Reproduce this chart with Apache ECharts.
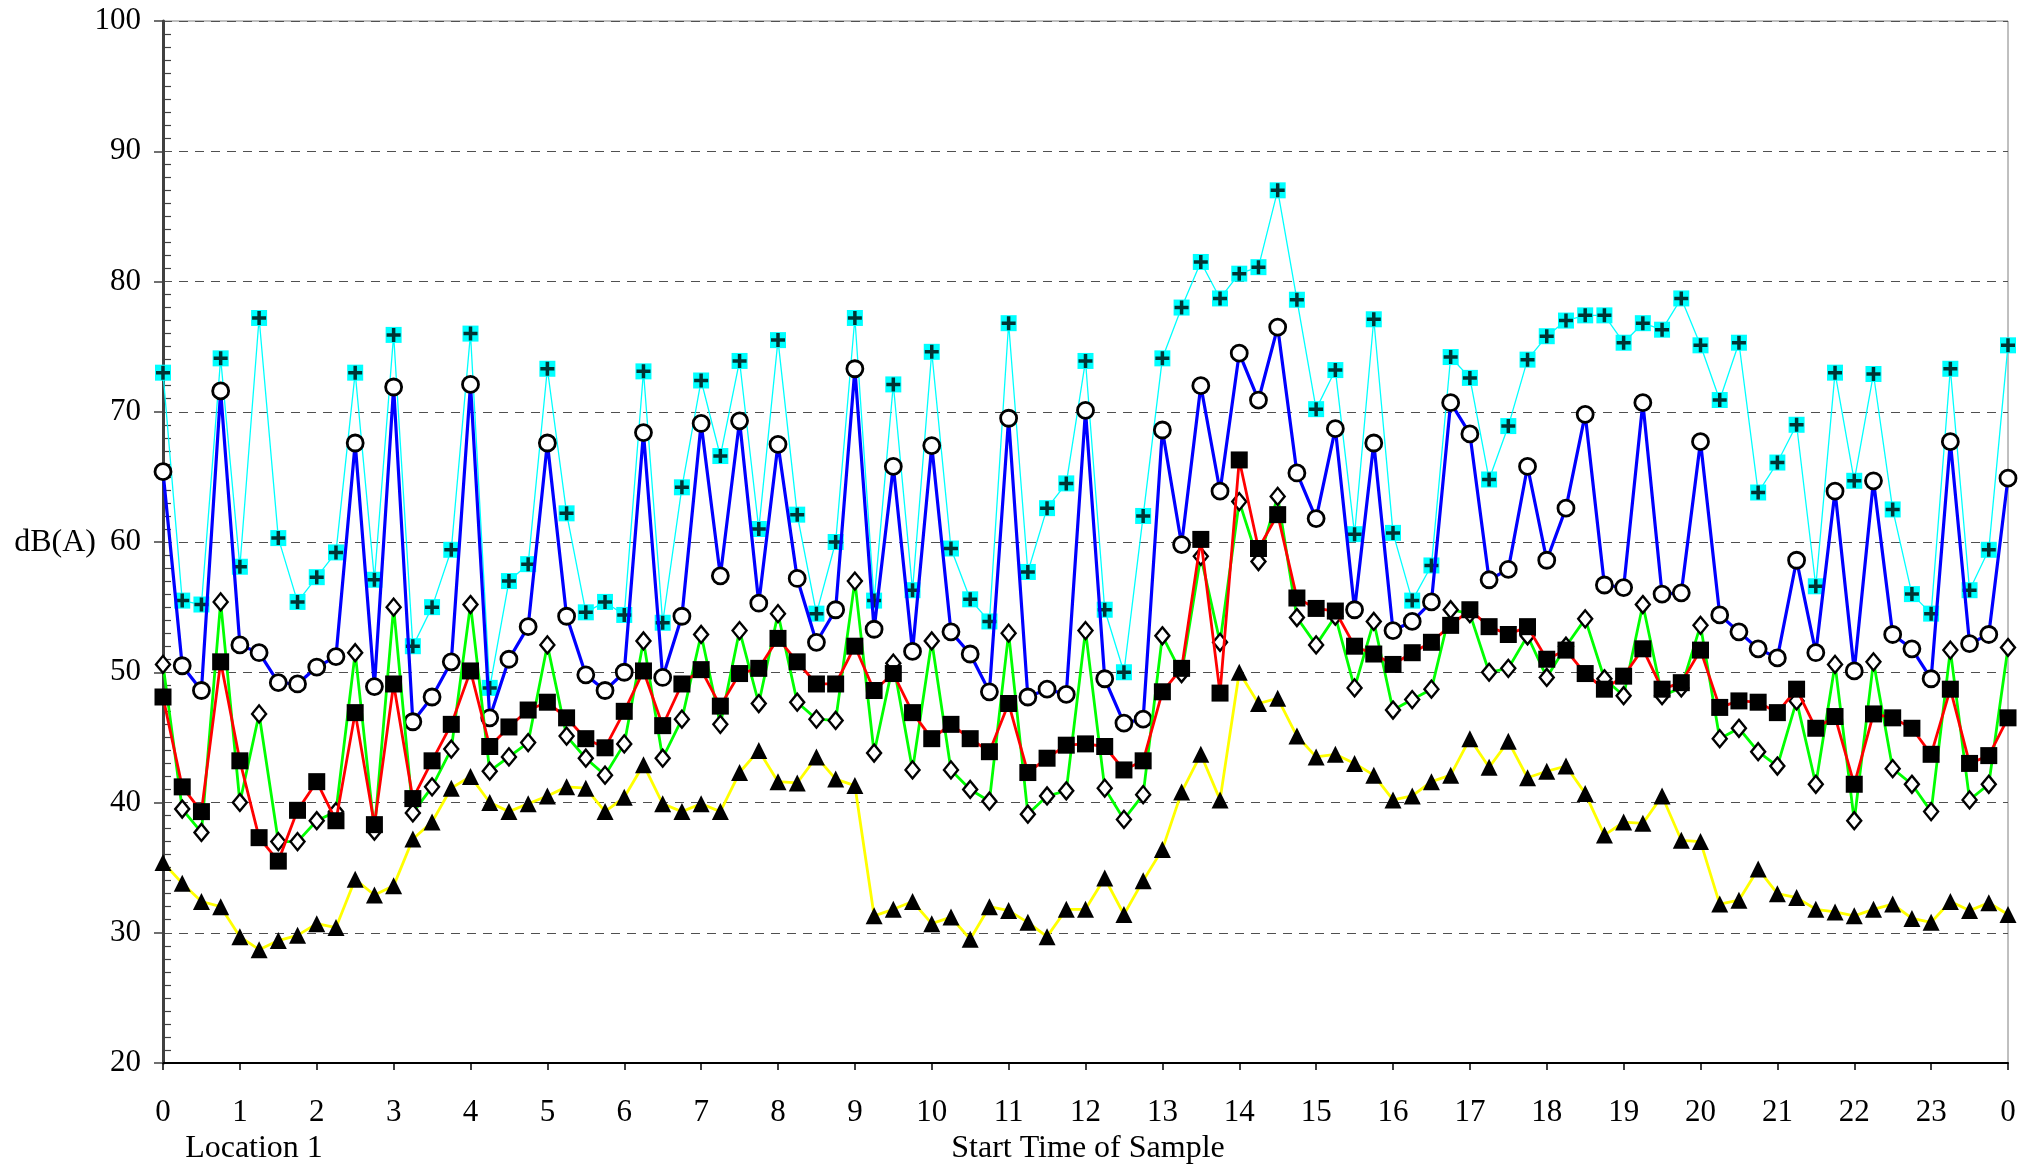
<!DOCTYPE html>
<html><head><meta charset="utf-8">
<script src="https://cdn.jsdelivr.net/npm/echarts@6/dist/echarts.min.js"></script>
<style>html,body{margin:0;padding:0;background:#fff}#c{width:2034px;height:1165px}</style>
</head><body><div id="c"></div>
<script>
const sampleTimes = ['0:00','0:15','0:30','0:45','1:00','1:15','1:30','1:45','2:00','2:15','2:30','2:45','3:00','3:15','3:30','3:45','4:00','4:15','4:30','4:45','5:00','5:15','5:30','5:45','6:00','6:15','6:30','6:45','7:00','7:15','7:30','7:45','8:00','8:15','8:30','8:45','9:00','9:15','9:30','9:45','10:00','10:15','10:30','10:45','11:00','11:15','11:30','11:45','12:00','12:15','12:30','12:45','13:00','13:15','13:30','13:45','14:00','14:15','14:30','14:45','15:00','15:15','15:30','15:45','16:00','16:15','16:30','16:45','17:00','17:15','17:30','17:45','18:00','18:15','18:30','18:45','19:00','19:15','19:30','19:45','20:00','20:15','20:30','20:45','21:00','21:15','21:30','21:45','22:00','22:15','22:30','22:45','23:00','23:15','23:30','23:45','24:00'];

const cyanPlus = [73.0,55.5,55.2,74.1,58.1,77.2,60.3,55.4,57.3,59.2, 73.0,57.1,75.9,52.0,55.0,59.4,76.0,48.8,57.0,58.3, 73.3,62.2,54.6,55.4,54.4,73.1,53.8,64.2,72.4,66.6, 73.9,61.0,75.5,62.1,54.5,60.0,77.2,55.5,72.1,56.3, 74.6,59.5,55.6,53.9,76.8,57.7,62.6,64.5,73.9,54.8, 50.0,62.0,74.1,78.0,81.5,78.7,80.6,81.1,87.0,78.6, 70.2,73.2,60.6,77.1,60.7,55.5,58.2,74.2,72.6,64.8, 68.9,74.0,75.8,77.0,77.4,77.4,75.3,76.8,76.3,78.7, 75.1,70.9,75.3,63.8,66.1,69.0,56.6,73.0,64.7,72.9, 62.5,56.0,54.5,73.3,56.3,59.4,75.1];

const blueCircle = [65.4,50.5,48.6,71.6,52.1,51.5,49.2,49.1,50.4,51.2, 67.6,48.9,71.9,46.2,48.1,50.8,72.1,46.5,51.0,53.5, 67.6,54.3,49.8,48.6,50.0,68.4,49.6,54.3,69.1,57.4, 69.3,55.3,67.5,57.2,52.3,54.8,73.3,53.3,65.8,51.6, 67.4,53.1,51.4,48.5,69.5,48.1,48.7,48.3,70.1,49.5, 46.1,46.4,68.6,59.8,72.0,63.9,74.5,70.9,76.5,65.3, 61.8,68.7,54.8,67.6,53.2,53.9,55.4,70.7,68.3,57.1, 57.9,65.8,58.6,62.6,69.8,56.7,56.5,70.7,56.0,56.1, 67.7,54.4,53.1,51.8,51.1,58.6,51.5,63.9,50.1,64.7, 52.9,51.8,49.5,67.7,52.2,52.9,64.9];

const greenDiamond = [50.6,39.5,37.7,55.4,40.0,46.8,37.0,37.0,38.6,39.3, 51.5,37.8,55.0,39.2,41.2,44.1,55.2,42.4,43.5,44.6, 52.1,45.1,43.4,42.1,44.5,52.4,43.4,46.4,52.9,46.0, 53.2,47.6,54.5,47.7,46.4,46.3,57.0,43.8,50.7,42.5, 52.4,42.5,41.0,40.1,53.0,39.1,40.5,40.9,53.2,41.1, 38.7,40.6,52.8,49.9,58.9,52.3,63.1,58.5,63.5,54.2, 52.1,54.3,48.8,53.9,47.1,47.9,48.7,54.8,54.5,50.0, 50.3,52.8,49.6,52.0,54.1,49.5,48.2,55.2,48.2,48.8, 53.6,44.9,45.7,43.9,42.8,47.8,41.4,50.6,38.6,50.8, 42.6,41.4,39.3,51.7,40.2,41.4,51.9];

const redSquare = [48.1,41.2,39.3,50.8,43.2,37.3,35.5,39.4,41.6,38.6, 46.9,38.3,49.1,40.3,43.2,46.0,50.1,44.3,45.8,47.1, 47.7,46.5,44.9,44.2,47.0,50.1,45.9,49.1,50.2,47.4, 49.9,50.3,52.6,50.8,49.1,49.1,52.0,48.6,49.9,46.9, 44.9,46.0,44.9,43.9,47.6,42.3,43.4,44.4,44.5,44.3, 42.5,43.2,48.5,50.3,60.2,48.4,66.3,59.5,62.1,55.7, 54.9,54.7,52.0,51.4,50.6,51.5,52.3,53.6,54.8,53.5, 52.9,53.5,51.0,51.7,49.9,48.7,49.7,51.8,48.7,49.2, 51.7,47.3,47.8,47.7,46.9,48.7,45.7,46.6,41.4,46.8, 46.5,45.7,43.7,48.7,43.0,43.6,46.5];

const yellowTriangle = [35.4,33.8,32.4,32.0,29.7,28.7,29.4,29.8,30.7,30.4, 34.1,32.9,33.6,37.2,38.5,41.1,42.0,40.0,39.3,39.9, 40.5,41.2,41.1,39.3,40.4,42.9,39.9,39.3,39.9,39.3, 42.3,44.0,41.6,41.5,43.5,41.8,41.3,31.3,31.8,32.4, 30.7,31.2,29.5,32.0,31.7,30.8,29.7,31.8,31.8,34.2, 31.4,34.0,36.4,40.8,43.7,40.2,50.0,47.6,48.0,45.1, 43.5,43.7,43.0,42.1,40.2,40.5,41.6,42.1,44.9,42.7, 44.7,41.9,42.4,42.8,40.7,37.5,38.5,38.4,40.5,37.1, 37.0,32.2,32.5,34.9,33.0,32.7,31.8,31.6,31.3,31.8, 32.2,31.1,30.8,32.4,31.7,32.3,31.4];

const yTicks = {min: 20, max: 100, step: 10};
const yName = 'dB(A)';
const xName = 'Start Time of Sample';
const locationLabel = 'Location 1';

const FONT = 'Liberation Serif, Times New Roman, serif';
const chart = echarts.init(document.getElementById('c'), null, {renderer: 'canvas'});
const plusPath = 'path://M4.5,0h3v4.5h4.5v3h-4.5v4.5h-3v-4.5h-4.5v-3h4.5z';

chart.setOption({
  animation: false,
  backgroundColor: '#fff',
  grid: {left: 163, right: 26, top: 21, bottom: 102, show: true, borderColor: '#808080', borderWidth: 1, backgroundColor: 'transparent'},
  xAxis: {
    type: 'category', data: sampleTimes, boundaryGap: false,
    axisLine: {lineStyle: {color: '#000', width: 2}},
    axisTick: {show: true, interval: 3, length: 7, lineStyle: {color: '#000', width: 1.5}},
    axisLabel: {interval: 3, margin: 34, color: '#000', fontFamily: FONT, fontSize: 31,
      formatter: v => String(parseInt(v, 10) % 24)},
    splitLine: {show: false}
  },
  yAxis: [{
    type: 'value', min: yTicks.min, max: yTicks.max, interval: yTicks.step,
    axisLine: {show: true, lineStyle: {color: '#404040', width: 3}},
    axisTick: {show: true, length: 9, lineStyle: {color: '#404040', width: 1.5}},
    axisLabel: {margin: 22, color: '#000', fontFamily: FONT, fontSize: 31},
    splitLine: {show: true, lineStyle: {color: '#505050', width: 1.2, type: [9, 7]}}
  }, {
    type: 'value', min: yTicks.min, max: yTicks.max, interval: yTicks.step, position: 'left',
    axisLine: {show: false},
    axisTick: {show: false, inside: true},
    axisLabel: {show: false},
    minorTick: {show: true, splitNumber: 10, length: 8, lineStyle: {color: '#404040', width: 1.2}},
    splitLine: {show: false}
  }],
  graphic: [
    {type: 'text', x: 96, y: 543, style: {text: yName, font: '32px ' + FONT, fill: '#000', align: 'right', verticalAlign: 'middle'}},
    {type: 'text', x: 254, y: 1149, style: {text: locationLabel, font: '32px ' + FONT, fill: '#000', align: 'center', verticalAlign: 'middle'}},
    {type: 'text', x: 1088, y: 1149, style: {text: xName, font: '32px ' + FONT, fill: '#000', align: 'center', verticalAlign: 'middle'}}
  ],
  series: [
    {name: 'Lmax', type: 'line', data: cyanPlus, z: 2,
      lineStyle: {color: '#00FFFF', width: 1.3}, itemStyle: {color: '#00FFFF', borderWidth: 0},
      symbol: 'rect', symbolSize: 16, showAllSymbol: true},
    {name: 'Lmax plus', type: 'scatter', data: cyanPlus, z: 3,
      itemStyle: {color: '#000'}, symbol: plusPath, symbolSize: 14},
    {name: 'L1', type: 'line', data: blueCircle, z: 4,
      lineStyle: {color: '#0000FF', width: 3.2}, itemStyle: {color: '#fff', borderColor: '#000', borderWidth: 2.8},
      symbol: 'circle', symbolSize: 16, showAllSymbol: true},
    {name: 'L10', type: 'line', data: greenDiamond, z: 5,
      lineStyle: {color: '#00FF00', width: 2.8}, itemStyle: {color: '#fff', borderColor: '#000', borderWidth: 2.4},
      symbol: 'diamond', symbolSize: [14, 17], showAllSymbol: true},
    {name: 'Leq', type: 'line', data: redSquare, z: 6,
      lineStyle: {color: '#FF0000', width: 2.8}, itemStyle: {color: '#000', borderWidth: 0},
      symbol: 'rect', symbolSize: 17, showAllSymbol: true},
    {name: 'L90', type: 'line', data: yellowTriangle, z: 7,
      lineStyle: {color: '#FFFF00', width: 2.8}, itemStyle: {color: '#000', borderWidth: 0},
      symbol: 'triangle', symbolSize: 17, showAllSymbol: true}
  ]
});
</script></body></html>
